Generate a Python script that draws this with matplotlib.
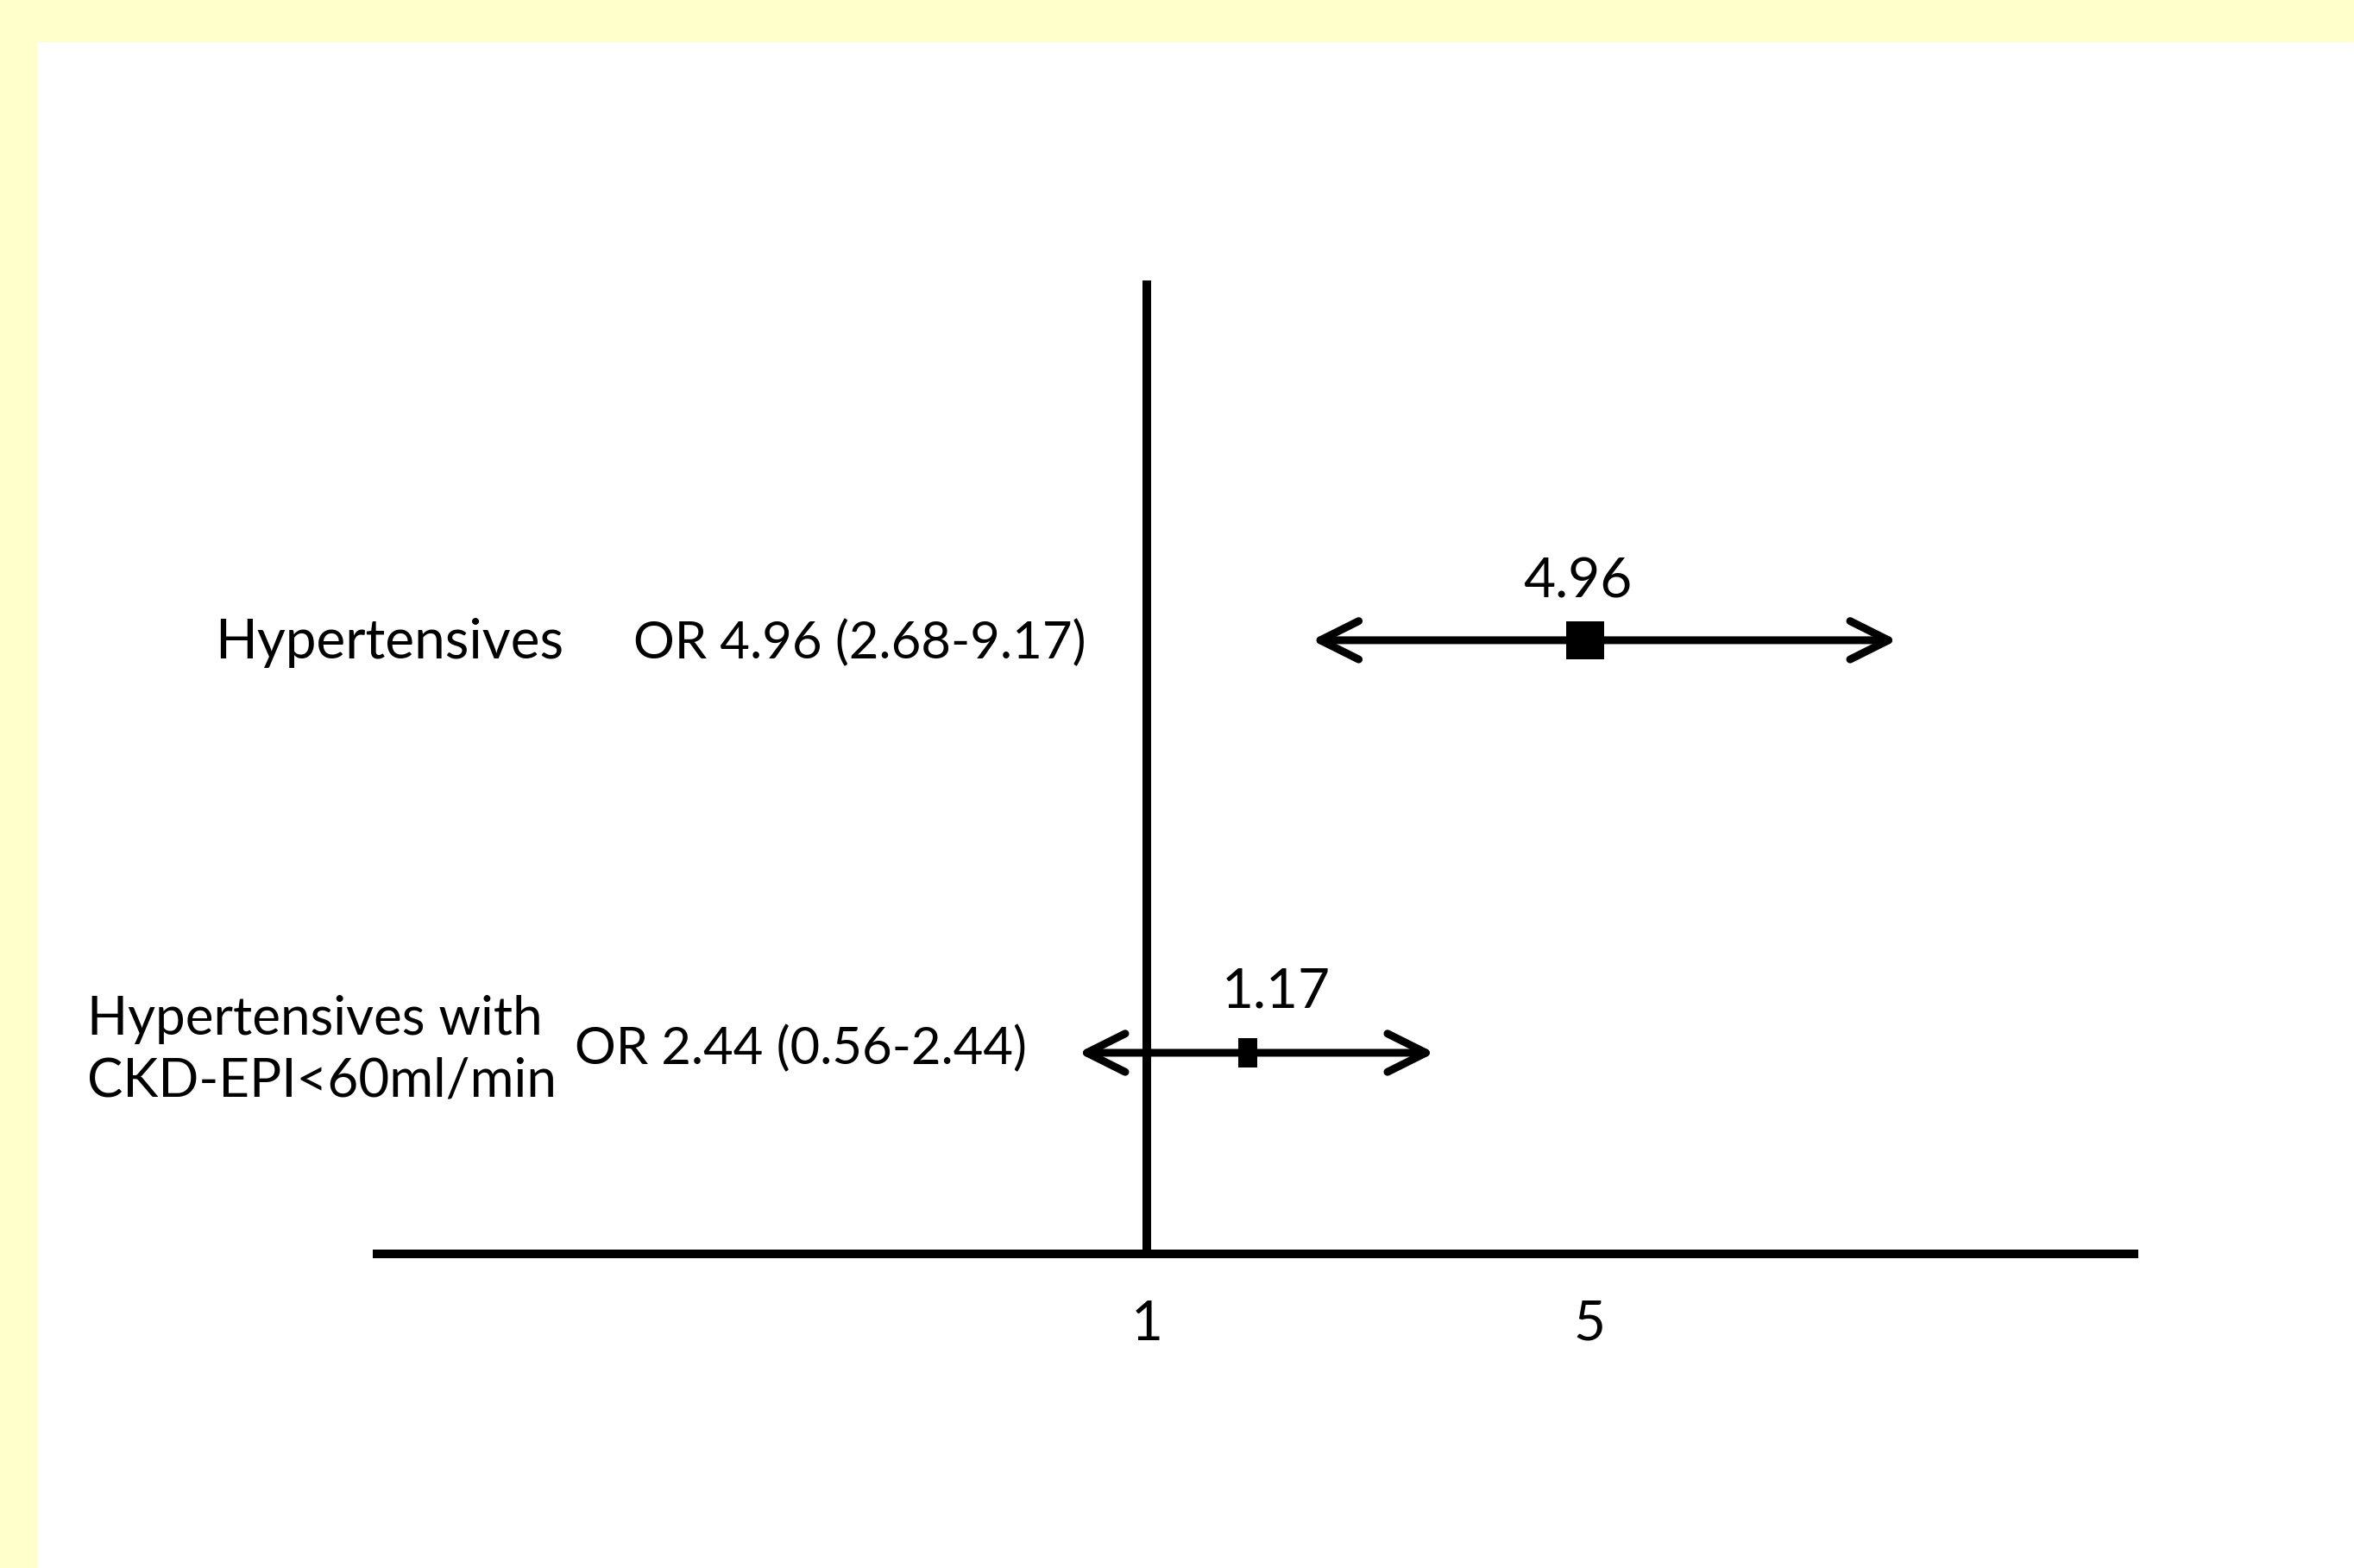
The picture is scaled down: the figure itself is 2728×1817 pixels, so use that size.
"""Forest-style odds ratio sketch: two groups with arrows on a single axis."""

import matplotlib
import matplotlib.pyplot as plt
from matplotlib.patches import Rectangle

matplotlib.use("AGG")

# rows, top to bottom
groups = ["Hypertensives", "Hypertensives with\nCKD-EPI<60ml/min"]
or_text = ["OR 4.96 (2.68-9.17)", "OR 2.44 (0.56-2.44)"]
point_labels = ["4.96", "1.17"]

# where the marks sit on the drawn axis (the sketch is not to scale)
est_drawn = [4.96, 1.91]
lo_drawn = [2.49, 0.38]
hi_drawn = [7.78, 3.60]
row_y = [2, 1]

tick_pos = [1, 5]
tick_labels = ["1", "5"]

W, H = 2728, 1817
DPI = 200
FONT = ["Lato", "DejaVu Sans"]
FS = 23


def fx(px):
    return px / W


def fy(px):
    return 1 - px / H


fig = plt.figure(figsize=(W / DPI, H / DPI), dpi=DPI)
fig.patch.set_facecolor("#FFFFCC")
fig.patches.append(
    Rectangle((fx(43), 0), 1, fy(49), transform=fig.transFigure,
              facecolor="white", edgecolor="none", zorder=-1)
)

ax = fig.add_axes([fx(437), fy(1453), fx(2473) - fx(437), fy(325) - fy(1453)])
ax.set_facecolor("none")
ax.set_xlim(-5.955, 9.92)
ax.set_ylim(0.5126, 2.872)

for side in ["top", "right", "left"]:
    ax.spines[side].set_visible(False)
ax.spines["bottom"].set_linewidth(3.6)
ax.set_yticks([])
ax.set_xticks(tick_pos)
ax.set_xticklabels(tick_labels, fontsize=FS, family=FONT)
ax.tick_params(axis="x", length=0, pad=19)

# null line at OR = 1
ax.axvline(1, color="black", lw=3.6, zorder=2)

markers = [
    "s",
    [(-0.32, -0.5), (0.32, -0.5), (0.32, 0.5), (-0.32, 0.5), (-0.32, -0.5)],
]
msizes = [15.5, 12.2]
label_offsets = [(-9, 67), (33, 70)]

for i in range(len(groups)):
    y = row_y[i]
    ax.annotate(
        "", xy=(hi_drawn[i], y), xytext=(lo_drawn[i], y),
        arrowprops=dict(arrowstyle="<->,head_length=0.4,head_width=0.2",
                        mutation_scale=40, lw=3.24, color="black",
                        shrinkA=0, shrinkB=0),
        zorder=3,
    )
    ax.plot(est_drawn[i], y, marker=markers[i], ms=msizes[i],
            color="black", mew=0, zorder=4)
    ax.annotate(point_labels[i], xy=(est_drawn[i], y),
                xytext=label_offsets[i], textcoords="offset pixels",
                ha="center", va="center", fontsize=FS, family=FONT)

# left-hand labels
fig.text(fx(249), fy(745), groups[0], ha="left", va="center",
         fontsize=FS, family=FONT)
fig.text(fx(101), fy(1217), groups[1], ha="left", va="center",
         fontsize=22.3, family=FONT, linespacing=1.32)
fig.text(fx(734), fy(745), or_text[0], ha="left", va="center",
         fontsize=21.5, family=FONT)
fig.text(fx(666), fy(1215), or_text[1], ha="left", va="center",
         fontsize=21.5, family=FONT)

fig.savefig("out.png", dpi=DPI, facecolor=fig.get_facecolor())
